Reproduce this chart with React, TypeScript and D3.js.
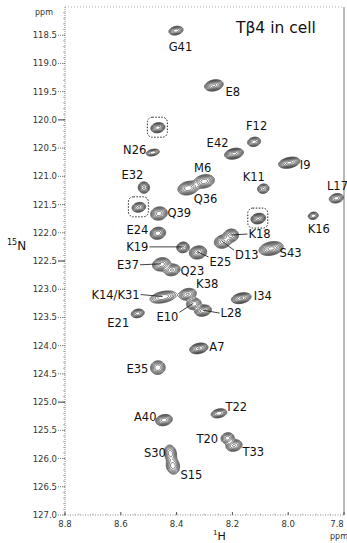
import React, { useRef, useEffect } from "react";
import * as d3 from "d3";

// assigned cross peaks (1H ppm, 15N ppm), relative height and gaussian width (ppm)
const residues = [
  "G41", "E8", "N26", "F12", "E42", "I9", "K11", "L17", "M6", "Q36",
  "E32", "Q39", "E24", "K19", "E37", "Q23", "E25", "D13", "K18", "S43",
  "K16", "K14/K31", "K38", "E10", "L28", "I34", "E21", "A7", "E35", "A40",
  "T22", "T20", "T33", "S30", "S15",
];
const hPpm = [
  8.404, 8.268, 8.487, 8.124, 8.196, 7.998, 8.091, 7.829, 8.303, 8.36,
  8.519, 8.465, 8.469, 8.379, 8.456, 8.418, 8.325, 8.237, 8.207, 8.063,
  7.912, 8.45, 8.362, 8.34, 8.307, 8.17, 8.541, 8.322, 8.469, 8.447,
  8.25, 8.219, 8.196, 8.424, 8.415,
];
const nPpm = [
  118.41, 119.38, 120.57, 120.38, 120.59, 120.75, 121.21, 121.38, 121.08, 121.2,
  121.19, 121.65, 122.0, 122.25, 122.55, 122.65, 122.34, 122.15, 122.04, 122.27,
  121.69, 123.13, 123.08, 123.25, 123.37, 123.15, 123.42, 124.04, 124.38, 125.31,
  125.19, 125.63, 125.76, 125.9, 126.12,
];
const heights = [
  0.8, 1.5, 0.6, 0.8, 1.6, 1.6, 0.7, 0.8, 1.2, 1.3,
  1.0, 1.2, 1.3, 1.0, 1.2, 1.0, 1.4, 1.1, 1.1, 1.6,
  0.6, 0.9, 1.0, 0.9, 1.2, 1.4, 0.8, 1.4, 0.9, 1.2,
  0.9, 0.8, 1.0, 0.8, 0.8,
];
const widthH = [
  0.012, 0.014, 0.012, 0.011, 0.014, 0.016, 0.010, 0.012, 0.016, 0.016,
  0.009, 0.013, 0.012, 0.010, 0.014, 0.013, 0.013, 0.013, 0.012, 0.018,
  0.009, 0.022, 0.014, 0.012, 0.013, 0.015, 0.011, 0.014, 0.012, 0.013,
  0.013, 0.011, 0.013, 0.010, 0.011,
];
const widthN = [
  0.035, 0.04, 0.028, 0.038, 0.038, 0.038, 0.04, 0.038, 0.05, 0.05,
  0.045, 0.05, 0.045, 0.042, 0.05, 0.045, 0.048, 0.05, 0.05, 0.048,
  0.032, 0.045, 0.045, 0.045, 0.042, 0.038, 0.035, 0.038, 0.055, 0.042,
  0.035, 0.045, 0.045, 0.07, 0.07,
];

// unassigned peaks marked with dotted boxes
const boxedH = [8.469, 8.537, 8.109];
const boxedN = [120.13, 121.54, 121.74];
const boxedHeight = [1.2, 1.0, 1.5];

const xTickLabels = ["8.8", "8.6", "8.4", "8.2", "8.0", "7.8"];
const yTickLabels = [
  "118.5", "119.0", "119.5", "120.0", "120.5", "121.0", "121.5", "122.0", "122.5",
  "123.0", "123.5", "124.0", "124.5", "125.0", "125.5", "126.0", "126.5", "127.0",
];
const contourLevels = [0.08, 0.12, 0.18, 0.27, 0.4, 0.6, 0.9, 1.3];

// label placement: offset from peak (px), anchor, leader line
const labelLayout: Record<string, [number, number, string, boolean]> = {
  G41: [5, 17, "middle", false],
  E8: [12, 7, "start", false],
  N26: [-6, -2, "end", false],
  F12: [3, -15, "middle", false],
  E42: [-5, -10, "end", false],
  I9: [11, 3, "start", false],
  K11: [-9, -11, "middle", false],
  L17: [-9, -12, "start", false],
  M6: [-1, -13, "middle", false],
  Q36: [6, 11, "start", false],
  E32: [-11, -12, "middle", false],
  Q39: [9, 0, "start", false],
  E24: [-9, -3, "end", false],
  K19: [-34, 0, "end", true],
  E37: [-22, 1, "end", true],
  Q23: [9, 2, "start", false],
  E25: [12, 10, "start", true],
  K18: [18, -1, "start", true],
  D13: [13, 14, "start", true],
  S43: [9, 5, "start", false],
  K16: [6, 14, "middle", false],
  "K14/K31": [-23, -2, "end", true],
  K38: [20, -10, "middle", false],
  E10: [-15, 14, "end", true],
  L28: [18, 3, "start", true],
  I34: [13, -2, "start", false],
  E21: [-19, 10, "middle", false],
  A7: [11, -1, "start", false],
  E35: [-9, 2, "end", false],
  A40: [-7, -3, "end", false],
  T22: [7, -6, "start", false],
  T20: [-9, 1, "end", false],
  T33: [9, 7, "start", false],
  S30: [-4, 0, "end", false],
  S15: [8, 10, "start", false],
};

const font = "'DejaVu Sans', Verdana, sans-serif";

const App = () => {
  const svgRef = useRef<SVGSVGElement>(null);

  useEffect(() => {
    const svg = d3.select(svgRef.current);
    svg.selectAll("*").remove();

    const left = 65, right = 344, top = 7, bottom = 515;
    const x = d3.scaleLinear().domain([8.8, 7.8]).range([left, right]);
    const y = d3.scaleLinear().domain([118, 127]).range([top, bottom]);

    // build a synthetic spectrum from the peak list, then contour it
    const nx = right - left, ny = bottom - top;
    const grid = new Float64Array(nx * ny);
    const tilt = (-12 * Math.PI) / 180;
    const c = Math.cos(tilt), s = Math.sin(tilt);
    const addPeak = (h: number, n: number, a: number, sh: number, sn: number) => {
      const cx = x(h) - left, cy = y(n) - top;
      const sx = Math.abs(x(h + sh) - x(h)), sy = Math.abs(y(n + sn) - y(n));
      const r = 4 * Math.max(sx, sy);
      for (let j = Math.max(0, Math.floor(cy - r)); j < Math.min(ny, Math.ceil(cy + r)); j++) {
        for (let i = Math.max(0, Math.floor(cx - r)); i < Math.min(nx, Math.ceil(cx + r)); i++) {
          const dx = i - cx, dy = j - cy;
          const u = dx * c + dy * s, v = -dx * s + dy * c;
          grid[j * nx + i] += a * Math.exp(-0.5 * ((u * u) / (sx * sx) + (v * v) / (sy * sy)));
        }
      }
    };
    residues.forEach((_, i) => addPeak(hPpm[i], nPpm[i], heights[i], widthH[i], widthN[i]));
    boxedH.forEach((h, i) => addPeak(h, boxedN[i], boxedHeight[i], 0.011, 0.038));

    const contours = d3.contours().size([nx, ny]).thresholds(contourLevels)(grid as any);
    const path = d3.geoPath(d3.geoIdentity().translate([left, top]));
    svg
      .append("g")
      .selectAll("path")
      .data(contours)
      .join("path")
      .attr("d", path as any)
      .attr("fill", "none")
      .attr("stroke", "#222")
      .attr("stroke-width", 0.6);

    // dotted boxes
    svg
      .append("g")
      .selectAll("rect")
      .data(boxedH)
      .join("rect")
      .attr("x", (d) => x(d) - 10)
      .attr("y", (d, i) => y(boxedN[i]) - 10)
      .attr("width", 20)
      .attr("height", 20)
      .attr("rx", 5)
      .attr("fill", "none")
      .attr("stroke", "#222")
      .attr("stroke-width", 1)
      .attr("stroke-dasharray", "1.5,1.5");

    // frame
    const frame = svg.append("g").attr("fill", "none");
    frame.append("line").attr("x1", left).attr("x2", right).attr("y1", top).attr("y2", top)
      .attr("stroke", "#aaa").attr("stroke-dasharray", "1,2");
    frame.append("line").attr("x1", right).attr("x2", right).attr("y1", top).attr("y2", bottom)
      .attr("stroke", "#777");
    frame.append("line").attr("x1", left).attr("x2", left).attr("y1", top).attr("y2", bottom)
      .attr("stroke", "#888").attr("stroke-dasharray", "1,1");
    frame.append("line").attr("x1", left).attr("x2", right).attr("y1", bottom).attr("y2", bottom)
      .attr("stroke", "#888").attr("stroke-dasharray", "1,1.5");

    // y axis
    const yAxis = svg.append("g");
    d3.range(118.1, 127, 0.1).forEach((v) => {
      yAxis.append("line").attr("x1", left - 2).attr("x2", left).attr("y1", y(v)).attr("y2", y(v))
        .attr("stroke", "#888").attr("stroke-width", 0.6);
    });
    yTickLabels.forEach((t) => {
      const v = +t;
      const major = t === "120.0" || t === "122.5" || t === "125.0";
      yAxis.append("line").attr("x1", left - 7).attr("x2", left).attr("y1", y(v)).attr("y2", y(v))
        .attr("stroke", major ? "#333" : "#777")
        .attr("stroke-dasharray", major ? null : "1,1");
      yAxis.append("text").attr("x", left - 8).attr("y", y(v) + 3).attr("text-anchor", "end")
        .attr("font-size", 8.5).attr("fill", "#333").attr("font-family", font).text(t);
    });

    // x axis
    const xAxis = svg.append("g");
    d3.range(7.85, 8.8, 0.05).forEach((v) => {
      xAxis.append("line").attr("x1", x(v)).attr("x2", x(v)).attr("y1", bottom).attr("y2", bottom - 1.5)
        .attr("stroke", "#888").attr("stroke-width", 0.6);
    });
    xTickLabels.forEach((t) => {
      const v = +t;
      xAxis.append("line").attr("x1", x(v)).attr("x2", x(v)).attr("y1", bottom).attr("y2", bottom - 3)
        .attr("stroke", "#555");
      xAxis.append("text").attr("x", Math.min(x(v), 337)).attr("y", 527).attr("text-anchor", "middle")
        .attr("font-size", 8.5).attr("fill", "#333").attr("font-family", font).text(t);
    });

    // peak labels
    const labels = svg.append("g").attr("font-family", font).attr("font-size", 11.5).attr("fill", "#111");
    residues.forEach((r, i) => {
      const [dx, dy, anchor, leader] = labelLayout[r];
      const px = x(hPpm[i]), py = y(nPpm[i]);
      const lx = px + dx, ly = py + dy;
      labels.append("text").attr("x", lx).attr("y", ly + 4).attr("text-anchor", anchor).text(r);
      if (leader) {
        const ex = anchor === "end" ? lx + 1 : lx - 1;
        let ey = ly;
        if (Math.abs(dy) > 8) ey = ly - Math.sign(dy) * 5;
        labels.append("line").attr("x1", px).attr("y1", py).attr("x2", ex).attr("y2", ey)
          .attr("stroke", "#111").attr("stroke-width", 0.8);
      }
    });

    // title and axis names
    svg.append("text").attr("x", 236).attr("y", 33).attr("font-size", 15.5).attr("fill", "#111")
      .attr("font-family", font).text("Tβ4 in cell");
    svg.append("text").attr("x", 35).attr("y", 15).attr("font-size", 8).attr("fill", "#333")
      .attr("font-family", font).text("ppm");
    svg.append("text").attr("x", 330).attr("y", 539).attr("font-size", 8).attr("fill", "#333")
      .attr("font-family", font).text("ppm");

    const nLabel = svg.append("text").attr("x", 7).attr("y", 250).attr("font-family", font).attr("fill", "#111");
    nLabel.append("tspan").attr("font-size", 8).attr("dy", -5).text("15");
    nLabel.append("tspan").attr("font-size", 12).attr("dy", 5).text("N");

    const hLabel = svg.append("text").attr("x", 213).attr("y", 540).attr("font-family", font).attr("fill", "#111");
    hLabel.append("tspan").attr("font-size", 7).attr("dy", -5).text("1");
    hLabel.append("tspan").attr("font-size", 11).attr("dy", 5).text("H");
  }, []);

  return (
    <svg
      ref={svgRef}
      width={347}
      height={543}
      style={{ position: "absolute", left: 0, top: 0, background: "#fff" }}
    ></svg>
  );
};

export default App;
